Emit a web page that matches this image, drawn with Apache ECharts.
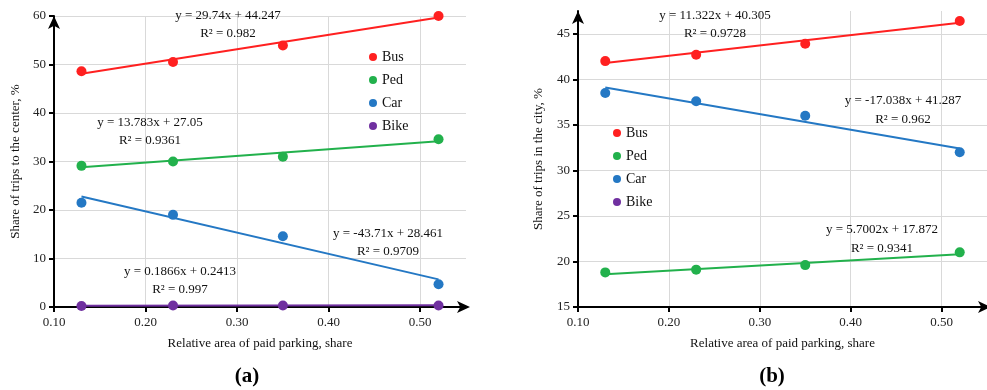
<!DOCTYPE html>
<html lang="en">
<head>
    <meta charset="UTF-8">
    <title>Share of trips vs paid parking</title>
    <script src="https://cdn.jsdelivr.net/npm/echarts@6/dist/echarts.min.js"></script>
</head>
<body style="margin:0">
<div id="main" style="width: 987px;height:390px;"></div>
<script type="text/javascript">
    // x values (relative area of paid parking)
    var parkingShare = [0.13, 0.23, 0.35, 0.52];
    var trendX = [0.13, 0.52];
    var modes = ['Bus', 'Ped', 'Car', 'Bike'];
    var modeColors = ['#ff2020', '#22b14c', '#2478c4', '#7030a0'];

    // (a) trips to the center, %
    var centerBus = [48.6, 50.5, 53.9, 60.0];
    var centerPed = [29.1, 30.0, 31.0, 34.6];
    var centerCar = [21.5, 19.0, 14.6, 4.7];
    var centerBike = [0.2, 0.3, 0.3, 0.3];
    // trend line ends (a)
    var centerBusTrend = [48.1, 59.7];
    var centerPedTrend = [28.8, 34.2];
    var centerCarTrend = [22.8, 5.7];
    var centerBikeTrend = [0.27, 0.34];

    // (b) trips in the city, %
    var cityBus = [42.0, 42.7, 43.9, 46.4];
    var cityPed = [18.8, 19.1, 19.6, 21.0];
    var cityCar = [38.5, 37.6, 36.0, 32.0];
    var cityBike = [];
    // trend line ends (b)
    var cityBusTrend = [41.8, 46.2];
    var cityPedTrend = [18.6, 20.8];
    var cityCarTrend = [39.1, 32.4];

    var xTicks = ['0.10', '0.20', '0.30', '0.40', '0.50'];

    var font = 'Liberation Serif';

    function pairs(xs, ys) {
        return ys.map(function (v, i) { return [xs[i], v]; });
    }

    function scatter(name, idx, ys, colorIdx) {
        return {
            name: name, type: 'scatter', xAxisIndex: idx, yAxisIndex: idx,
            symbolSize: 10, data: pairs(parkingShare, ys),
            itemStyle: {color: modeColors[colorIdx], opacity: 1}, z: 5
        };
    }

    function trend(idx, ys, colorIdx) {
        return {
            name: 'trend', type: 'line', xAxisIndex: idx, yAxisIndex: idx,
            showSymbol: false, symbol: 'none', data: pairs(trendX, ys),
            lineStyle: {color: modeColors[colorIdx], width: 2}, z: 4, silent: true
        };
    }

    function xAxis(gridIndex) {
        return {
            type: 'value', gridIndex: gridIndex, min: 0.1, max: 0.55, interval: 0.1,
            name: 'Relative area of paid parking, share', nameLocation: 'middle', nameGap: 30,
            nameTextStyle: {fontFamily: font, fontSize: 13, color: '#111'},
            axisLine: {lineStyle: {color: '#000', width: 2}, symbol: ['none', 'arrow'], symbolSize: [9, 13], symbolOffset: [0, 4]},
            axisTick: {show: true, length: 5, lineStyle: {color: '#000', width: 2}},
            axisLabel: {fontFamily: font, fontSize: 13, color: '#222', margin: 9, showMaxLabel: false,
                formatter: function (v) { var i = Math.round(v * 10) - 1; return xTicks[i] || ''; }},
            splitLine: {show: true, showMaxLine: false, lineStyle: {color: '#d9d9d9', width: 1}}
        };
    }

    function yAxis(gridIndex, min, max, interval, name, gap) {
        return {
            type: 'value', gridIndex: gridIndex, min: min, max: max, interval: interval,
            name: name, nameLocation: 'middle', nameGap: gap,
            nameTextStyle: {fontFamily: font, fontSize: 13, color: '#111'},
            axisLine: {show: true, lineStyle: {color: '#000', width: 2}, symbol: ['none', 'arrow'], symbolSize: [9, 13]},
            axisTick: {show: true, length: 5, lineStyle: {color: '#000', width: 2}},
            axisLabel: {fontFamily: font, fontSize: 13, color: '#222', showMaxLabel: max % interval === 0},
            splitLine: {show: true, showMaxLine: max % interval === 0, lineStyle: {color: '#d9d9d9', width: 1}}
        };
    }

    function note(x, y, text) {
        return {
            type: 'text', x: x, y: y, z: 10,
            style: {text: text, fill: '#111', font: '13px "' + font + '"', align: 'center', verticalAlign: 'middle'}
        };
    }

    var myChart = echarts.init(document.getElementById('main'));
    var option = {
        animation: false,
        grid: [
            {left: 54, top: 16, width: 412, height: 291},
            {left: 578, top: 11, width: 411, height: 296}
        ],
        xAxis: [xAxis(0), xAxis(1)],
        yAxis: [
            yAxis(0, 0, 60, 10, 'Share of trips to the center, %', 32),
            yAxis(1, 15, 47.5, 5, 'Share of trips in the city, %', 33)
        ],
        legend: [
            {left: 364, top: 45, orient: 'vertical', data: modes, icon: 'circle',
                itemWidth: 8, itemHeight: 8, itemGap: 9,
                textStyle: {fontFamily: font, fontSize: 14, color: '#111'}},
            {left: 608, top: 121, orient: 'vertical', data: modes, icon: 'circle',
                itemWidth: 8, itemHeight: 8, itemGap: 9,
                textStyle: {fontFamily: font, fontSize: 14, color: '#111'}}
        ],
        series: [
            trend(0, centerBusTrend, 0), trend(0, centerPedTrend, 1),
            trend(0, centerCarTrend, 2), trend(0, centerBikeTrend, 3),
            scatter('Bus', 0, centerBus, 0), scatter('Ped', 0, centerPed, 1),
            scatter('Car', 0, centerCar, 2), scatter('Bike', 0, centerBike, 3),
            trend(1, cityBusTrend, 0), trend(1, cityPedTrend, 1), trend(1, cityCarTrend, 2),
            scatter('Bus', 1, cityBus, 0), scatter('Ped', 1, cityPed, 1),
            scatter('Car', 1, cityCar, 2), scatter('Bike', 1, cityBike, 3)
        ],
        graphic: [
            note(228, 16, 'y = 29.74x + 44.247'), note(228, 34, 'R² = 0.982'),
            note(150, 123, 'y = 13.783x + 27.05'), note(150, 141, 'R² = 0.9361'),
            note(388, 234, 'y = -43.71x + 28.461'), note(388, 252, 'R² = 0.9709'),
            note(180, 272, 'y = 0.1866x + 0.2413'), note(180, 290, 'R² = 0.997'),
            note(715, 16, 'y = 11.322x + 40.305'), note(715, 34, 'R² = 0.9728'),
            note(903, 101, 'y = -17.038x + 41.287'), note(903, 120, 'R² = 0.962'),
            note(882, 230, 'y = 5.7002x + 17.872'), note(882, 249, 'R² = 0.9341'),
            {type: 'text', x: 247, y: 377, style: {text: '(a)', fill: '#000', font: 'bold 21px "Liberation Serif"', align: 'center', verticalAlign: 'middle'}},
            {type: 'text', x: 772, y: 377, style: {text: '(b)', fill: '#000', font: 'bold 21px "Liberation Serif"', align: 'center', verticalAlign: 'middle'}}
        ]
    };
    myChart.setOption(option);
</script>
</body>
</html>
